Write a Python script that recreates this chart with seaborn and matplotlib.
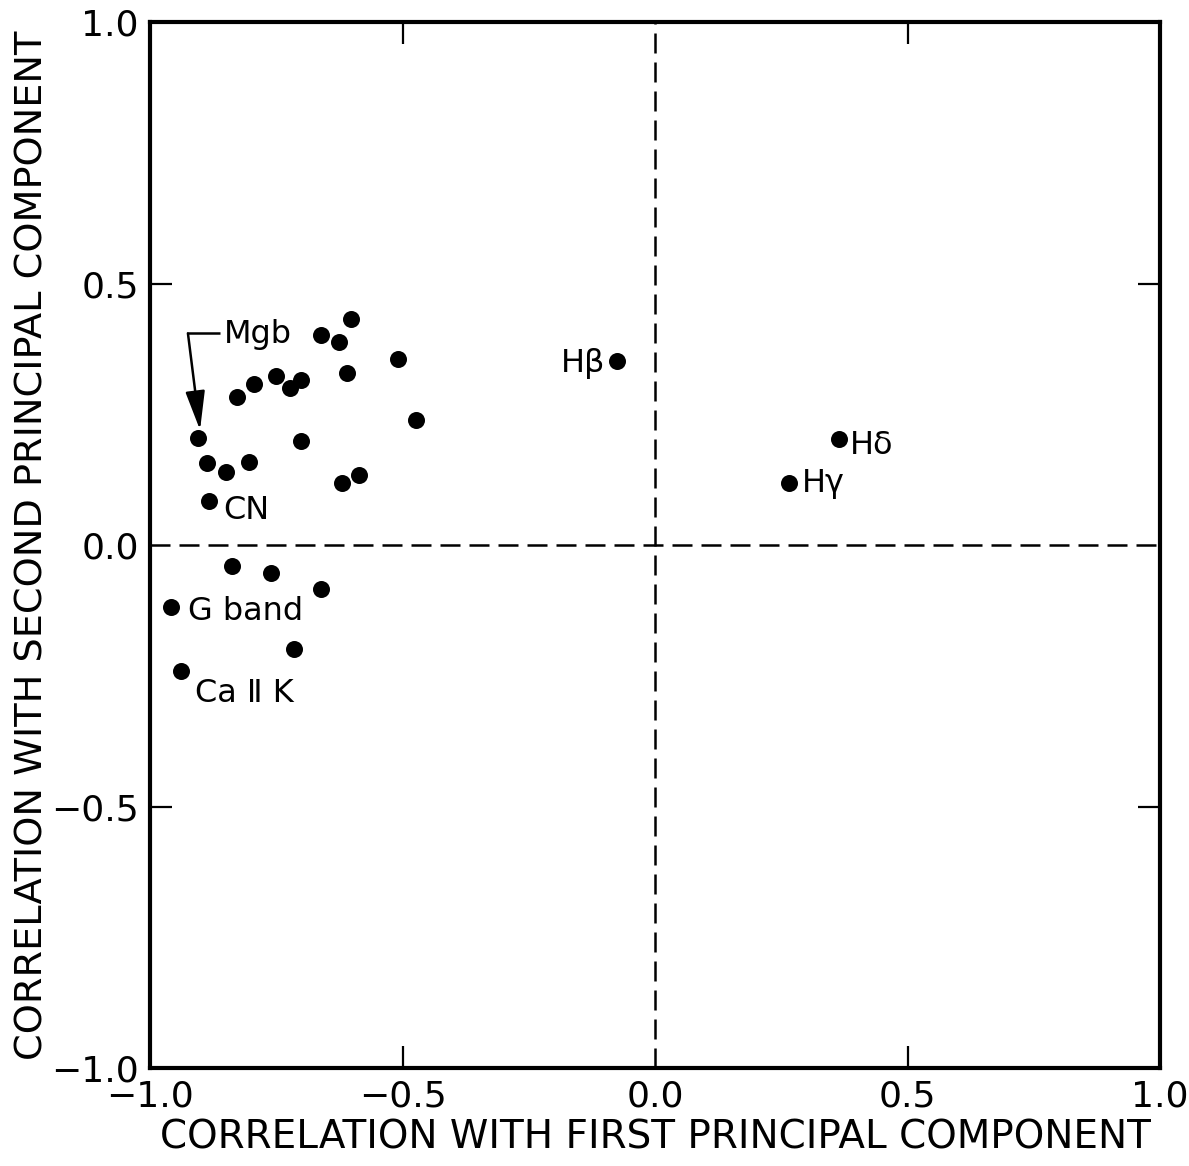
import matplotlib
matplotlib.use("Agg")
import matplotlib.pyplot as plt
import seaborn as sns
import pandas as pd

# Correlations of the spectral indices with the first two principal components
first_pc = [-0.906, -0.888, -0.850, -0.804, -0.884, -0.828, -0.795, -0.750,
            -0.723, -0.701, -0.702, -0.661, -0.625, -0.603, -0.610, -0.508,
            -0.473, -0.620, -0.586, -0.838, -0.761, -0.661, -0.959, -0.714,
            -0.939, -0.076, 0.365, 0.266]
second_pc = [0.205, 0.156, 0.140, 0.158, 0.084, 0.284, 0.307, 0.324,
             0.300, 0.315, 0.199, 0.402, 0.389, 0.433, 0.329, 0.356,
             0.239, 0.119, 0.134, -0.040, -0.054, -0.084, -0.118, -0.199,
             -0.241, 0.352, 0.202, 0.118]

tick_values = [-1.0, -0.5, 0.0, 0.5, 1.0]
tick_labels = ["\u22121.0", "\u22120.5", "0.0", "0.5", "1.0"]
marked_ticks = [-0.5, 0.5]

# Named features: label text, anchor (x, y) and horizontal alignment
feature_names = ["CN", "G band", "Ca \u2161 K", "H\u03b2", "H\u03b4", "H\u03b3"]
feature_x = [-0.856, -0.925, -0.911, -0.099, 0.386, 0.290]
feature_y = [0.067, -0.1275, -0.2836, 0.347, 0.191, 0.118]
feature_ha = ["left", "left", "left", "right", "left", "left"]

df = pd.DataFrame({"first": first_pc, "second": second_pc})

sns.set_style("ticks")
plt.rcParams["font.family"] = ["DejaVu Sans"]
plt.rcParams["axes.unicode_minus"] = True
plt.rcParams["text.color"] = "black"
plt.rcParams["axes.labelcolor"] = "black"
plt.rcParams["xtick.color"] = "black"
plt.rcParams["ytick.color"] = "black"
plt.rcParams["axes.edgecolor"] = "black"

fig = plt.figure(figsize=(11.89, 11.66), dpi=100)
ax = fig.add_axes([0.1262, 0.0840, 0.8494, 0.8971])

sns.scatterplot(data=df, x="first", y="second", ax=ax, color="black",
                s=150, edgecolor="black", linewidth=0, zorder=3)

ax.set_xlim(-1, 1)
ax.set_ylim(-1, 1)

# zero lines drawn as long dashes
dash = (0, (8, 3.6))
ax.axhline(0, color="black", lw=1.8, ls=dash, zorder=1)
ax.axvline(0, color="black", lw=1.8, ls=dash, zorder=1)

# every value is labelled, but only +/-0.5 get an inward mark on all sides
ax.set_xticks(tick_values)
ax.set_xticklabels(tick_labels)
ax.set_yticks(tick_values)
ax.set_yticklabels(tick_labels)
ax.tick_params(direction="in", length=16, width=1.6, labelsize=26, pad=8,
               top=True, right=True, bottom=True, left=True,
               colors="black")
for axis in (ax.xaxis, ax.yaxis):
    for value, tick in zip(tick_values, axis.get_major_ticks()):
        if value not in marked_ticks:
            tick.tick1line.set_visible(False)
            tick.tick2line.set_visible(False)

for sp in ax.spines.values():
    sp.set_linewidth(3)
    sp.set_color("black")
    sp.set_visible(True)

ax.set_xlabel("CORRELATION WITH FIRST PRINCIPAL COMPONENT", fontsize=28)
ax.set_ylabel("CORRELATION WITH SECOND PRINCIPAL COMPONENT", fontsize=27.5)
ax.xaxis.set_label_coords(0.5, -0.048)
ax.yaxis.set_label_coords(-0.099, 0.5)

for name, fx, fy, ha in zip(feature_names, feature_x, feature_y, feature_ha):
    ax.text(fx, fy, name, ha=ha, va="center", fontsize=23)

# Mgb label with a bent leader ending in an arrow at its point
ax.text(-0.853, 0.402, "Mgb", ha="left", va="center", fontsize=23)
ax.plot([-0.925, -0.861], [0.405, 0.405], color="black", lw=1.8,
        solid_capstyle="butt")
ax.annotate("", xy=(-0.901, 0.220), xytext=(-0.925, 0.405),
            arrowprops=dict(arrowstyle="-|>,head_length=1.2,head_width=0.3",
                            mutation_scale=20, lw=1.8, color="black",
                            shrinkA=0, shrinkB=0))

fig.savefig("out.png", dpi=100)
